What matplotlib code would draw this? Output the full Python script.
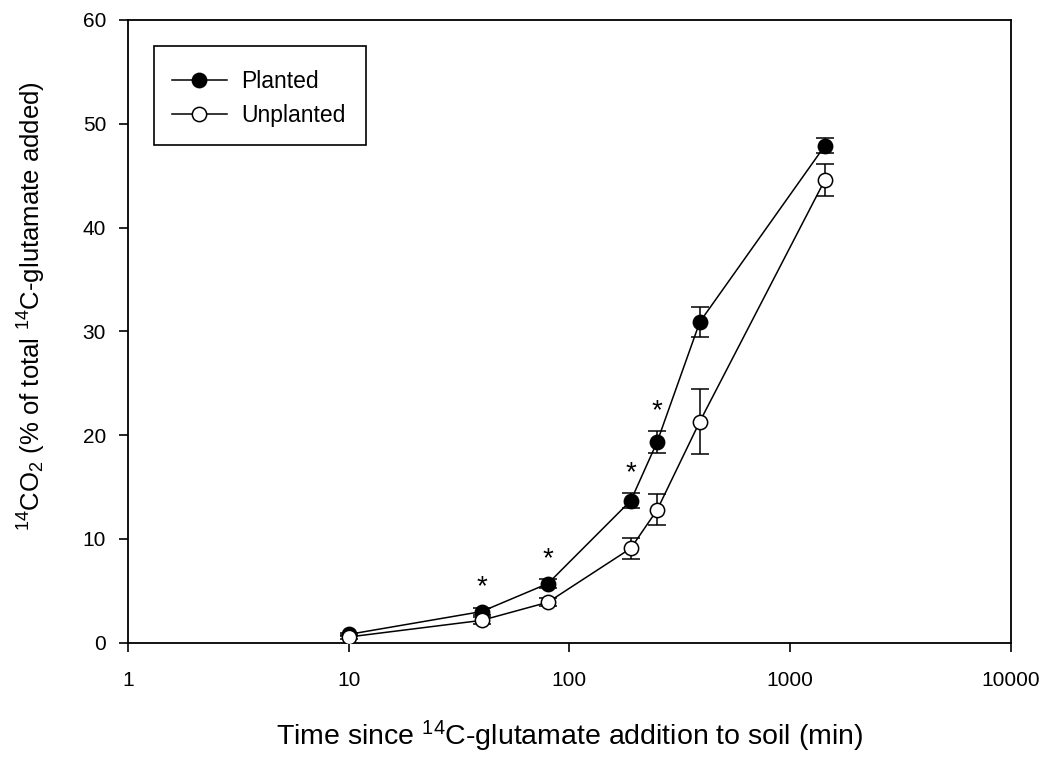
import matplotlib
matplotlib.use("Agg")
import matplotlib.pyplot as plt
from matplotlib.patches import Rectangle

plt.rcParams['font.family'] = ['Liberation Sans', 'DejaVu Sans']
plt.rcParams['mathtext.fontset'] = 'custom'
plt.rcParams['mathtext.rm'] = 'Liberation Sans'
plt.rcParams['mathtext.it'] = 'Liberation Sans:italic'
plt.rcParams['mathtext.bf'] = 'Liberation Sans:bold'

# Data
time_min = [10, 40, 80, 190, 250, 390, 1440]
planted = [0.8, 3.0, 5.7, 13.7, 19.35, 30.9, 47.9]
planted_err = [0.15, 0.3, 0.4, 0.75, 1.07, 1.47, 0.7]
unplanted = [0.55, 2.15, 3.9, 9.1, 12.8, 21.3, 44.6]
unplanted_err = [0.2, 0.3, 0.4, 1.0, 1.5, 3.1, 1.55]
star_x = [40, 80, 190, 250]
star_y = [5.97, 8.6, 16.9, 22.9]
xticks = [1, 10, 100, 1000, 10000]
xtick_labels = ['1', '10', '100', '1000', '10000']
yticks = [0, 10, 20, 30, 40, 50, 60]

W, H = 1047, 762
AX_L, AX_R, AX_T, AX_B = 128, 1010.7, 20, 642.7
fig = plt.figure(figsize=(W / 100, H / 100), dpi=100)
ax = fig.add_axes([AX_L / W, 1 - AX_B / H, (AX_R - AX_L) / W, (AX_B - AX_T) / H])


def ax_frac(px, py):
    return (px - AX_L) / (AX_R - AX_L), (AX_B - py) / (AX_B - AX_T)


lw = 1.1
ax.errorbar(time_min, planted, yerr=planted_err, fmt='none', ecolor='black',
            elinewidth=lw, capsize=6.3, capthick=lw, zorder=2)
ax.errorbar(time_min, unplanted, yerr=unplanted_err, fmt='none', ecolor='black',
            elinewidth=lw, capsize=6.3, capthick=lw, zorder=2)
ax.plot(time_min, planted, '-o', color='black', lw=lw, markersize=10.3,
        markerfacecolor='black', markeredgecolor='black', markeredgewidth=1.1,
        label='Planted', zorder=3)
ax.plot(time_min, unplanted, '-o', color='black', lw=lw, markersize=10.3,
        markerfacecolor='white', markeredgecolor='black', markeredgewidth=1.1,
        label='Unplanted', zorder=3)

for sx, sy in zip(star_x, star_y):
    ax.annotate('*', xy=(sx, sy), xytext=(0, -9.5), textcoords='offset points',
                ha='center', va='baseline', fontsize=20, color='black')

ax.set_xscale('log')
ax.set_xlim(1, 10000)
ax.set_ylim(0, 60)
ax.set_xticks(xticks)
ax.set_xticklabels(xtick_labels)
ax.xaxis.set_minor_locator(matplotlib.ticker.NullLocator())
ax.set_yticks(yticks)
ax.tick_params(axis='both', direction='out', length=6.3, width=1.2,
               labelsize=15, colors='black')
ax.tick_params(axis='x', pad=14)
ax.tick_params(axis='y', pad=9.5)
for sp in ax.spines.values():
    sp.set_linewidth(1.3)
    sp.set_color('black')

fig.text((AX_L + AX_R) / 2 / W, 1 - 736 / H,
         r'Time since $\mathregular{^{14}}$C-glutamate addition to soil (min)',
         ha='center', va='center', fontsize=20.5)
fig.text(32 / W, 1 - 306.5 / H,
         r'$\mathregular{^{14}CO_2}$ (% of total $\mathregular{^{14}}$C-glutamate added)',
         ha='center', va='center', rotation=90, fontsize=18.5)

# Legend (frameless) with a drawn box around it
lx0, ly0 = ax_frac(154, 145)
lx1, ly1 = ax_frac(365.7, 45.7)
ax.add_patch(Rectangle((lx0, ly0), lx1 - lx0, ly1 - ly0, transform=ax.transAxes,
                       facecolor='white', edgecolor='black', linewidth=1.2, zorder=4))
ax_anchor = ax_frac(154, 52)
leg = ax.legend(loc='upper left', bbox_to_anchor=ax_anchor,
                borderaxespad=0, fontsize=16.5, frameon=False,
                numpoints=1, handlelength=2.37,
                handletextpad=0.65, borderpad=0.8, labelspacing=0.45)
leg.set_zorder(5)

fig.savefig('out.png', dpi=100)
